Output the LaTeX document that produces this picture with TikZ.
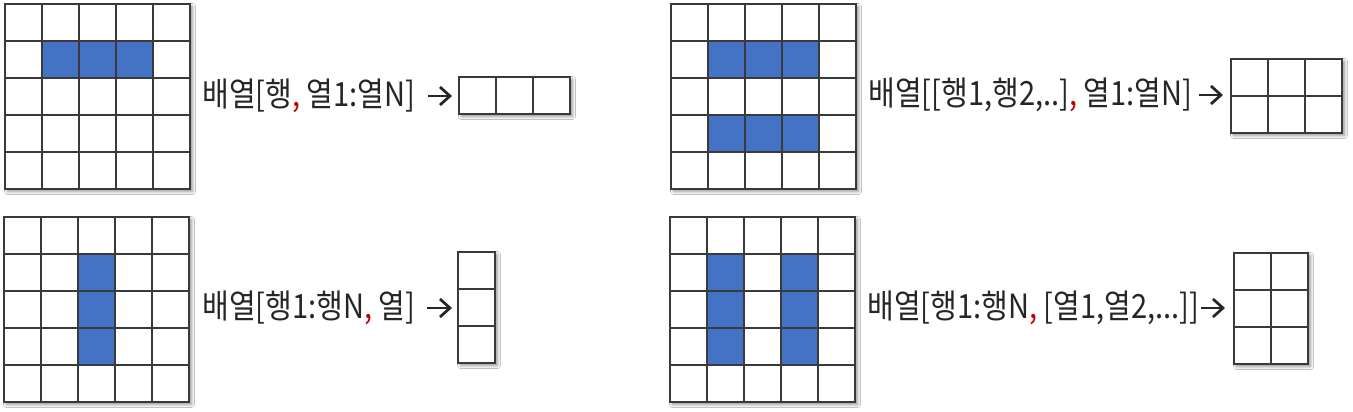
\documentclass[tikz,border=0pt]{standalone}
\usepackage{fontspec}
\newfontfamily\kr[FakeStretch=0.87]{Noto Sans CJK KR}
\usetikzlibrary{shadows.blur,arrows.meta}
\definecolor{cellblue}{HTML}{4472C4}
\definecolor{gridgray}{HTML}{3A3A3A}
\definecolor{commared}{HTML}{C00000}
\newcommand\cellgrid[5]{%
  \fill[shadowbox] (#1,#2) rectangle ++({37*#3},{37*#4});
  #5
  \foreach \i in {1,...,#3}{\ifnum\i<#3\relax\draw[gridline] ({#1+37*\i},#2) -- ++(0,{37*#4});\fi}
  \foreach \j in {1,...,#4}{\ifnum\j<#4\relax\draw[gridline] (#1,{#2+37*\j}) -- ++({37*#3},0);\fi}
  \draw[gridline] (#1,#2) rectangle ++({37*#3},{37*#4});
}
\newcommand\rc{{\color{commared},}}
\begin{document}
\begin{tikzpicture}[x=0.02cm,y=-0.02cm,
  gridline/.style={draw=gridgray, line width=0.7pt},
  cellfill/.style={fill=cellblue},
  shadowbox/.style={fill=white, blur shadow={shadow xshift=0.05cm, shadow yshift=-0.05cm, shadow blur steps=6, shadow opacity=45}},
  lbl/.style={font=\kr\fontsize{19pt}{22pt}\selectfont, inner sep=0pt, anchor=west, text=black!85},
  arr/.style={draw=black!85, line width=0.055cm, -{Straight Barb[length=0.2cm, width=0.36cm]}}]
\useasboundingbox[fill=white] (0,0) rectangle (1353,412);

% panel 1: one row
\cellgrid{5}{4}{5}{5}{\fill[cellfill] (42,41) rectangle ++(111,37);}
\node[lbl] (t1) at (202,96) {배열[행\rc{} 열1:열N]};
\coordinate (a1s) at (428,96); \coordinate (a1e) at (452,96);
\draw[arr] (a1s) -- (a1e);
\cellgrid{459}{77}{3}{1}{}

% panel 2: one column
\cellgrid{4}{217}{5}{5}{\fill[cellfill] (78,254) rectangle ++(37,111);}
\node[lbl] (t2) at (202,308) {배열[행1:행N\rc{} 열]};
\coordinate (a2s) at (427,308); \coordinate (a2e) at (452,308);
\draw[arr] (a2s) -- (a2e);
\cellgrid{458}{252}{1}{3}{}

% panel 3: two rows
\cellgrid{671}{4}{5}{5}{\fill[cellfill] (708,41) rectangle ++(111,37); \fill[cellfill] (708,115) rectangle ++(111,37);}
\node[lbl] (t3) at (868,95) {배열[[행1,행2,..]\rc{} 열1:열N]};
\coordinate (a3s) at (1199,95); \coordinate (a3e) at (1223,95);
\draw[arr] (a3s) -- (a3e);
\cellgrid{1231}{59}{3}{2}{}

% panel 4: two columns
\cellgrid{670}{217}{5}{5}{\fill[cellfill] (707,254) rectangle ++(37,111); \fill[cellfill] (781,254) rectangle ++(37,111);}
\node[lbl] (t4) at (867,308) {배열[행1:행N\rc{} [열1,열2,...]]};
\coordinate (a4s) at (1201,308); \coordinate (a4e) at (1225,308);
\draw[arr] (a4s) -- (a4e);
\cellgrid{1234}{253}{2}{3}{}
\end{tikzpicture}
\end{document}
